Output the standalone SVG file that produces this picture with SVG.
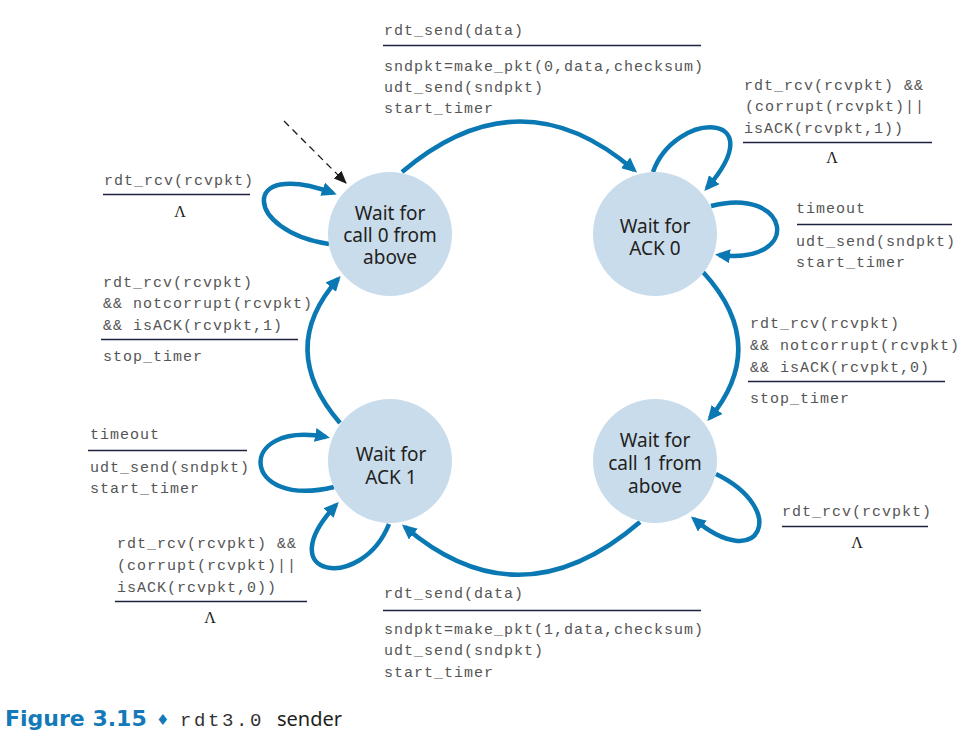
<svg xmlns="http://www.w3.org/2000/svg" width="971" height="747" viewBox="0 0 971 747">
<defs>
<style>
.node{fill:#c9dcec}
.nt{font-family:"Noto Sans","Open Sans",sans-serif;font-size:19px;fill:#231f20;text-anchor:middle}
.m{font-family:"Liberation Mono","Courier New",monospace;font-size:15px;letter-spacing:1px;fill:#555555}
.lam{font-family:"Liberation Serif",serif;font-size:16px;fill:#231f20;text-anchor:middle}
.rule{stroke:#1c2140;stroke-width:1.5;fill:none}
.arc{fill:none;stroke:#0a78b2;stroke-width:4.5}
</style>
<marker id="ah" markerUnits="userSpaceOnUse" viewBox="0 0 15 14" markerWidth="15" markerHeight="14" refX="11" refY="7" orient="auto">
<path d="M0,0 L15,7 L0,14 Z" fill="#0a78b2"/>
</marker>
<marker id="ahk" markerUnits="userSpaceOnUse" viewBox="0 0 13 11" markerWidth="13" markerHeight="11" refX="12" refY="5.5" orient="auto">
<path d="M0,0 L13,5.5 L0,11 Z" fill="#1a1a1a"/>
</marker>
</defs>
<rect width="971" height="747" fill="#ffffff"/>

<g id="connectors">
<path class="arc" d="M402,172 Q520,72 634,170" marker-end="url(#ah)"/>
<path class="arc" d="M653,172 C675,110 775,110 707,188" marker-end="url(#ah)"/>
<path class="arc" d="M711,206 C790,185 805,265 719,255" marker-end="url(#ah)"/>
<path class="arc" d="M703,272 Q770,345 710,418" marker-end="url(#ah)"/>
<path class="arc" d="M716,474 C790,510 760,575 694,519" marker-end="url(#ah)"/>
<path class="arc" d="M640,522 Q520,625 405,527" marker-end="url(#ah)"/>
<path class="arc" d="M389,524 C362,592 268,578 336,505" marker-end="url(#ah)"/>
<path class="arc" d="M334,487 C240,510 235,420 326,437" marker-end="url(#ah)"/>
<path class="arc" d="M340,423 Q276,349 338,279" marker-end="url(#ah)"/>
<path class="arc" d="M329,244 C245,232 238,158 333,193" marker-end="url(#ah)"/>
<path d="M284,121 L346,183" fill="none" stroke="#1a1a1a" stroke-width="1.3" stroke-dasharray="7,5" marker-end="url(#ahk)"/>
</g>

<g id="node-wait-call0">
<circle class="node" cx="390" cy="234" r="62"/>
<text class="nt" x="390" y="220">Wait for</text>
<text class="nt" x="390" y="242">call 0 from</text>
<text class="nt" x="390" y="264">above</text>
</g>
<g id="node-wait-ack0">
<circle class="node" cx="655" cy="234" r="62"/>
<text class="nt" x="655" y="233">Wait for</text>
<text class="nt" x="655" y="255">ACK 0</text>
</g>
<g id="node-wait-ack1">
<circle class="node" cx="390" cy="461" r="62"/>
<text class="nt" x="391" y="461">Wait for</text>
<text class="nt" x="391" y="484">ACK 1</text>
</g>
<g id="node-wait-call1">
<circle class="node" cx="655" cy="461" r="62"/>
<text class="nt" x="655" y="447">Wait for</text>
<text class="nt" x="655" y="470">call 1 from</text>
<text class="nt" x="655" y="493">above</text>
</g>

<g id="labels">
<text class="m" x="384" y="35">rdt_send(data)</text>
<line class="rule" x1="383" y1="45.5" x2="701" y2="45.5"/>
<text class="m" x="384" y="71">sndpkt=make_pkt(0,data,checksum)</text>
<text class="m" x="384" y="92">udt_send(sndpkt)</text>
<text class="m" x="384" y="113">start_timer</text>

<text class="m" x="744" y="90">rdt_rcv(rcvpkt) &amp;&amp;</text>
<text class="m" x="745" y="111">(corrupt(rcvpkt)||</text>
<text class="m" x="744" y="133">isACK(rcvpkt,1))</text>
<line class="rule" x1="743" y1="142.5" x2="932" y2="142.5"/>
<text class="lam" x="832" y="163">Λ</text>

<text class="m" x="796" y="213">timeout</text>
<line class="rule" x1="797" y1="224.5" x2="952" y2="224.5"/>
<text class="m" x="796" y="246">udt_send(sndpkt)</text>
<text class="m" x="796" y="267">start_timer</text>

<text class="m" x="750" y="328">rdt_rcv(rcvpkt)</text>
<text class="m" x="750" y="350">&amp;&amp; notcorrupt(rcvpkt)</text>
<text class="m" x="750" y="372">&amp;&amp; isACK(rcvpkt,0)</text>
<line class="rule" x1="748" y1="381.5" x2="945" y2="381.5"/>
<text class="m" x="750" y="403">stop_timer</text>

<text class="m" x="104" y="185">rdt_rcv(rcvpkt)</text>
<line class="rule" x1="103" y1="194.5" x2="250" y2="194.5"/>
<text class="lam" x="180" y="217">Λ</text>

<text class="m" x="103" y="287">rdt_rcv(rcvpkt)</text>
<text class="m" x="103" y="308">&amp;&amp; notcorrupt(rcvpkt)</text>
<text class="m" x="103" y="330">&amp;&amp; isACK(rcvpkt,1)</text>
<line class="rule" x1="101" y1="339.5" x2="298" y2="339.5"/>
<text class="m" x="103" y="361">stop_timer</text>

<text class="m" x="90" y="439">timeout</text>
<line class="rule" x1="88" y1="450.5" x2="247" y2="450.5"/>
<text class="m" x="90" y="472">udt_send(sndpkt)</text>
<text class="m" x="90" y="493">start_timer</text>

<text class="m" x="117" y="548">rdt_rcv(rcvpkt) &amp;&amp;</text>
<text class="m" x="117" y="570">(corrupt(rcvpkt)||</text>
<text class="m" x="117" y="592">isACK(rcvpkt,0))</text>
<line class="rule" x1="115" y1="601.5" x2="307" y2="601.5"/>
<text class="lam" x="210" y="623">Λ</text>

<text class="m" x="384" y="598">rdt_send(data)</text>
<line class="rule" x1="383" y1="610.5" x2="701" y2="610.5"/>
<text class="m" x="384" y="634">sndpkt=make_pkt(1,data,checksum)</text>
<text class="m" x="384" y="655">udt_send(sndpkt)</text>
<text class="m" x="384" y="677">start_timer</text>

<text class="m" x="782" y="516">rdt_rcv(rcvpkt)</text>
<line class="rule" x1="782" y1="526.5" x2="928" y2="526.5"/>
<text class="lam" x="857" y="548">Λ</text>
</g>

<g id="caption">
<text x="5" y="726" font-family="DejaVu Sans,sans-serif" font-weight="bold" font-size="22" fill="#1479b8">Figure 3.15</text>
<text x="156" y="725" font-family="DejaVu Sans,sans-serif" font-size="15" fill="#1479b8">♦</text>
<text x="180" y="726" font-family="Liberation Mono,monospace" font-size="19" letter-spacing="2.6" fill="#333333">rdt3.0</text>
<text x="277" y="726" font-family="Noto Sans,sans-serif" font-size="20" fill="#231f20">sender</text>
</g>
</svg>
